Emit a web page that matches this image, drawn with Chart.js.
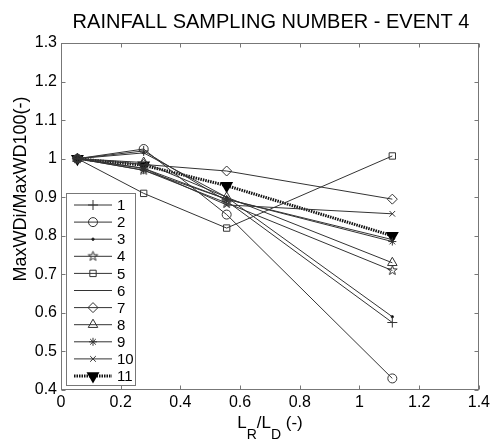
<!DOCTYPE html>
<html>
<head>
<meta charset="utf-8">
<script src="https://cdn.jsdelivr.net/npm/chart.js@4/dist/chart.umd.min.js"></script>
<style>html,body{margin:0;padding:0;background:#fff;}canvas{display:block;}</style>
</head>
<body>
<canvas id="c" width="493" height="441"></canvas>
<script>
// ---- data ----
const xValues = [0.055, 0.277, 0.555, 1.11];
const seriesLabels = ['1','2','3','4','5','6','7','8','9','10','11'];
const s1  = [1, 1.02, 0.89, 0.575];
const s2  = [1, 1.025, 0.855, 0.43];
const s3  = [1, 1.015, 0.9, 0.59];
const s4  = [1, 0.97, 0.885, 0.71];
const s5  = [1, 0.91, 0.82, 1.007];
const s6  = [1, 0.975, 0.895, 0.79];
const s7  = [1, 0.985, 0.968, 0.895];
const s8  = [1, 0.99, 0.9, 0.73];
const s9  = [1, 0.97, 0.895, 0.785];
const s10 = [1, 0.975, 0.88, 0.857];
const s11 = [1, 0.983, 0.93, 0.8];
const xTicks = [0, 0.2, 0.4, 0.6, 0.8, 1, 1.2, 1.4];
const yTicks = [0.4, 0.5, 0.6, 0.7, 0.8, 0.9, 1, 1.1, 1.2, 1.3];
const titleText = 'RAINFALL SAMPLING NUMBER - EVENT 4';
const yTitle = 'MaxWDi/MaxWD100(-)';

const FONT = '"Liberation Sans", Arial, sans-serif';
const LINE = '#333';

// pentagram marker
function pentagram(r){
  const s = Math.ceil(r*2+3), c = document.createElement('canvas');
  c.width = s; c.height = s;
  const g = c.getContext('2d');
  g.strokeStyle = LINE; g.lineWidth = 1;
  g.beginPath();
  for (let i=0;i<10;i++){
    const a = -Math.PI/2 + i*Math.PI/5;
    const rr = i%2===0 ? r : r*0.4;
    const px = s/2 + rr*Math.cos(a), py = s/2 + rr*Math.sin(a);
    if(i===0) g.moveTo(px,py); else g.lineTo(px,py);
  }
  g.closePath(); g.stroke();
  return c;
}
const star5 = pentagram(5);

const seriesValues = [s1,s2,s3,s4,s5,s6,s7,s8,s9,s10,s11];
const styles = [
  {ps:'cross', r:5},
  {ps:'circle', r:4.5},
  {ps:'circle', r:1.2, fill:true},
  {ps:star5, r:5},
  {ps:'rect', r:4.5},
  {ps:false, r:0},
  {ps:'rectRot', r:5},
  {ps:'triangle', r:5.5},
  {ps:'star', r:4},
  {ps:'crossRot', r:4},
  {ps:'triangle', r:5.5, rot:180, fill:true, thick:true}
];

const datasets = seriesValues.map((vals, i) => {
  const st = styles[i];
  return {
    label: seriesLabels[i],
    data: vals.map((v, j) => ({x: xValues[j], y: v})),
    borderColor: st.thick ? '#111' : LINE,
    borderWidth: st.thick ? 3 : 1,
    borderDash: st.thick ? [1.5, 1] : [],
    pointStyle: st.ps,
    pointRadius: st.r,
    pointRotation: st.rot || 0,
    pointBorderColor: st.thick ? '#000' : LINE,
    pointBackgroundColor: st.fill ? '#000' : 'rgba(0,0,0,0)',
    pointBorderWidth: st.thick ? 2 : 1,
    showLine: true,
    fill: false,
    tension: 0
  };
});

const decor = {
  id: 'decor',
  afterDraw(chart) {
    const ctx = chart.ctx, ca = chart.chartArea;
    const xs = chart.scales.x, ys = chart.scales.y;
    ctx.save();
    // frame
    ctx.strokeStyle = '#777'; ctx.lineWidth = 1;
    const L = Math.round(ca.left)+0.5, R = Math.round(ca.right)-0.5, T = Math.round(ca.top)+0.5, B = Math.round(ca.bottom)-0.5;
    ctx.strokeRect(L, T, R-L, B-T);
    ctx.beginPath();
    xTicks.forEach(v => {
      const p = Math.round(xs.getPixelForValue(v))+0.5;
      ctx.moveTo(p, B); ctx.lineTo(p, B-4);
      ctx.moveTo(p, T); ctx.lineTo(p, T+4);
    });
    yTicks.forEach(v => {
      const p = Math.round(ys.getPixelForValue(v))+0.5;
      ctx.moveTo(L, p); ctx.lineTo(L+4, p);
      ctx.moveTo(R, p); ctx.lineTo(R-4, p);
    });
    ctx.stroke();

    // title
    ctx.fillStyle = '#000';
    ctx.font = '20px ' + FONT;
    ctx.textAlign = 'center'; ctx.textBaseline = 'alphabetic';
    ctx.fillText(titleText, 271, 28);

    // y title
    ctx.save();
    ctx.translate(26, 189);
    ctx.rotate(-Math.PI/2);
    ctx.font = '18px ' + FONT;
    ctx.textAlign = 'center';
    ctx.fillText(yTitle, 0, 0);
    ctx.restore();

    // x title L_R/L_D (-)
    const parts = [
      {t:'L', sub:false}, {t:'R', sub:true}, {t:'/L', sub:false}, {t:'D', sub:true}, {t:' (-)', sub:false}
    ];
    const big = '17px ' + FONT, small = '14px ' + FONT;
    let total = 0;
    parts.forEach(p => { ctx.font = p.sub ? small : big; p.w = ctx.measureText(p.t).width; total += p.w; });
    let cx = 270 - total/2;
    const by = 428;
    ctx.textAlign = 'left';
    parts.forEach(p => {
      ctx.font = p.sub ? small : big;
      ctx.fillText(p.t, cx, p.sub ? by+11 : by);
      cx += p.w;
    });

    // legend
    const lx = 66.5, ly = 193.5, lw = 69, lh = 192;
    ctx.fillStyle = '#fff';
    ctx.fillRect(lx, ly, lw, lh);
    ctx.strokeStyle = '#777'; ctx.lineWidth = 1;
    ctx.strokeRect(lx, ly, lw, lh);
    chart.data.datasets.forEach((ds, i) => {
      const y = 205 + i*17.1;
      ctx.save();
      ctx.strokeStyle = ds.borderColor; ctx.lineWidth = ds.borderWidth;
      ctx.setLineDash(ds.borderDash || []);
      ctx.beginPath(); ctx.moveTo(74, y); ctx.lineTo(112, y); ctx.stroke();
      ctx.setLineDash([]);
      if (ds.pointStyle) {
        ctx.strokeStyle = ds.pointBorderColor; ctx.fillStyle = ds.pointBackgroundColor;
        ctx.lineWidth = ds.pointBorderWidth;
        Chart.helpers.drawPoint(ctx, {pointStyle: ds.pointStyle, rotation: ds.pointRotation, radius: ds.pointRadius, borderWidth: ds.pointBorderWidth}, 93, y);
      }
      ctx.restore();
      ctx.fillStyle = '#000';
      ctx.font = '15px ' + FONT;
      ctx.textAlign = 'left'; ctx.textBaseline = 'middle';
      ctx.fillText(ds.label, 117, y+1);
    });
    ctx.restore();
  }
};

new Chart(document.getElementById('c'), {
  type: 'scatter',
  data: { datasets },
  options: {
    responsive: false,
    animation: false,
    devicePixelRatio: 1,
    layout: { padding: { left: 0, right: 12, top: 43, bottom: 0 } },
    plugins: { legend: { display: false }, title: { display: false }, tooltip: { enabled: false } },
    scales: {
      x: {
        type: 'linear', min: 0, max: 1.4,
        afterFit: s => { s.height = 51; },
        afterBuildTicks: s => { s.ticks = xTicks.map(v => ({value: v})); },
        grid: { display: false, drawTicks: false },
        border: { display: false },
        ticks: { color: '#000', padding: 3, font: { size: 16, family: FONT }, callback: v => String(+v.toFixed(1)), maxRotation: 0, autoSkip: false }
      },
      y: {
        type: 'linear', min: 0.4, max: 1.3,
        afterFit: s => { s.width = 61; },
        afterBuildTicks: s => { s.ticks = yTicks.map(v => ({value: v})); },
        grid: { display: false, drawTicks: false },
        border: { display: false },
        ticks: { color: '#000', padding: 4, font: { size: 16, family: FONT }, callback: v => String(+v.toFixed(1)), autoSkip: false }
      }
    }
  },
  plugins: [decor]
});
</script>
</body>
</html>
